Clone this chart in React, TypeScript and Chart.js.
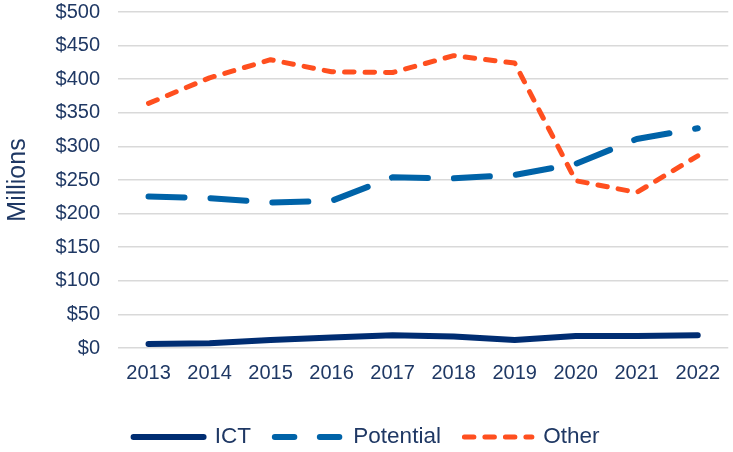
import React, { useEffect, useRef } from "react";
import { Chart, registerables } from "chart.js";

Chart.register(...registerables);

const years = ["2013", "2014", "2015", "2016", "2017", "2018", "2019", "2020", "2021", "2022"];
const ictValues = [6, 7, 12, 15.5, 19, 17, 12, 18, 18, 19];
const potentialValues = [225.5, 223, 216.5, 219, 254, 252.5, 257.5, 274, 311, 327];
const otherValues = [364, 402, 429, 411, 410, 435, 424, 249, 231.5, 286];
const yTicks = [0, 50, 100, 150, 200, 250, 300, 350, 400, 450, 500];

const NAVY_TEXT = "#1f3864";
const FONT = "'Liberation Sans', Arial, sans-serif";

export default function App() {
  const ref = useRef<HTMLCanvasElement | null>(null);

  useEffect(() => {
    if (!ref.current) return;
    const legendDash: Record<string, { dash: number[]; offset: number }> = {
      ICT: { dash: [], offset: 0 },
      Potential: { dash: [19.5, 25.5], offset: -2.75 },
      Other: { dash: [9.5, 11], offset: -2.5 },
    };
    const chart = new Chart(ref.current, {
      type: "line",
      data: {
        labels: years,
        datasets: [
          {
            label: "ICT",
            data: ictValues,
            borderColor: "#002d72",
            backgroundColor: "#002d72",
            borderWidth: 6,
            borderCapStyle: "round",
            borderJoinStyle: "round",
            pointRadius: 0,
            tension: 0,
          },
          {
            label: "Potential",
            data: potentialValues,
            borderColor: "#0063a8",
            backgroundColor: "#0063a8",
            borderWidth: 6,
            borderDash: [36, 26],
            borderCapStyle: "round",
            borderJoinStyle: "round",
            pointRadius: 0,
            tension: 0,
          },
          {
            label: "Other",
            data: otherValues,
            borderColor: "#ff4f1f",
            backgroundColor: "#ff4f1f",
            borderWidth: 5,
            borderDash: [9.5, 11],
            borderCapStyle: "round",
            borderJoinStyle: "round",
            pointRadius: 0,
            tension: 0,
          },
        ],
      },
      options: {
        animation: false,
        responsive: true,
        maintainAspectRatio: false,
        layout: { padding: { top: 2, bottom: -6.25, left: 0, right: 0 } },
        plugins: {
          tooltip: { enabled: false },
          legend: {
            position: "bottom",
            labels: {
              usePointStyle: true,
              pointStyleWidth: 70,
              padding: 21,
              color: NAVY_TEXT,
              font: { family: FONT, size: 22.5 },
              generateLabels: (c: any) =>
                c.data.datasets.map((ds: any, i: number) => ({
                  text: ds.label,
                  fillStyle: ds.borderColor,
                  strokeStyle: ds.borderColor,
                  fontColor: NAVY_TEXT,
                  lineWidth: ds.borderWidth,
                  lineDash: legendDash[ds.label].dash,
                  lineDashOffset: legendDash[ds.label].offset,
                  lineCap: "round",
                  pointStyle: "line",
                  hidden: false,
                  datasetIndex: i,
                })),
            },
          },
        },
        scales: {
          x: {
            type: "category",
            offset: true,
            grid: { display: false, drawTicks: false },
            border: { display: false },
            ticks: {
              color: NAVY_TEXT,
              font: { family: FONT, size: 20 },
              padding: 13,
              maxRotation: 0,
              autoSkip: false,
            },
            afterFit: (s: any) => {
              s.height = 56.75;
            },
          },
          y: {
            min: 0,
            max: 500,
            afterBuildTicks: (s: any) => {
              s.ticks = yTicks.map((v) => ({ value: v }));
            },
            grid: { color: "#d9d9d9", lineWidth: 1.6, drawTicks: false },
            border: { display: false },
            ticks: {
              color: NAVY_TEXT,
              font: { family: FONT, size: 20 },
              padding: 18,
              callback: (v: any) => "$" + v,
            },
            title: {
              display: true,
              text: "Millions",
              color: NAVY_TEXT,
              font: { family: FONT, size: 25 },
              padding: { top: 3, bottom: 0 },
            },
            afterFit: (s: any) => {
              s.width = 118;
              s.paddingTop = 12;
              s.paddingBottom = 12;
            },
          },
        },
      },
    });
    return () => chart.destroy();
  }, []);

  return (
    <div style={{ position: "fixed", left: 0, top: 0, width: 733, height: 452, background: "#fff" }}>
      <canvas ref={ref} />
    </div>
  );
}
